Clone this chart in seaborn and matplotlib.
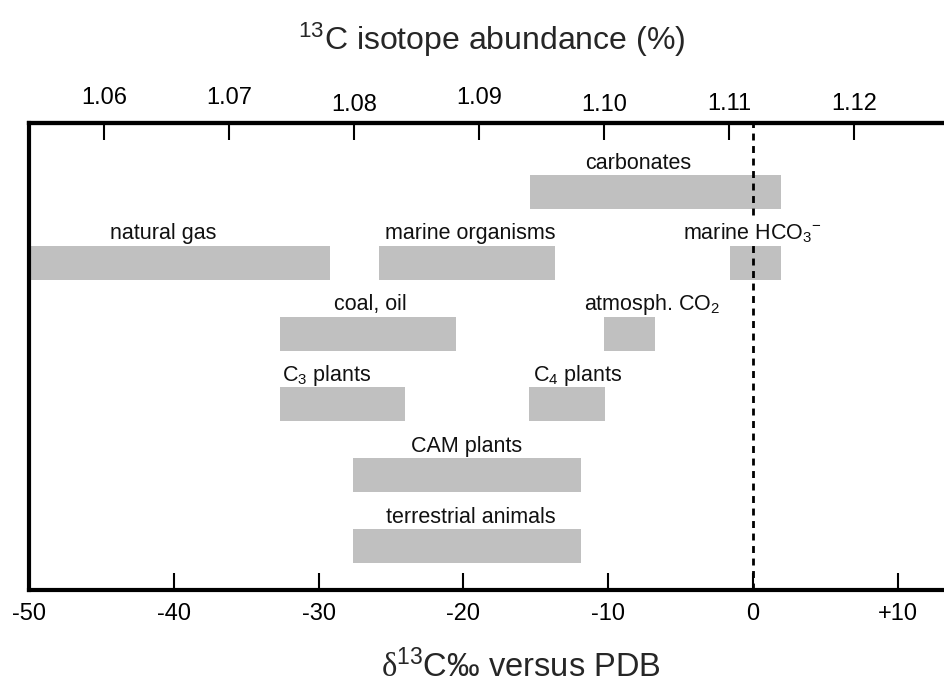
import matplotlib
matplotlib.use("Agg")
import matplotlib.pyplot as plt
from matplotlib.transforms import ScaledTranslation
import seaborn as sns
import numpy as np

# delta13C ranges (per mil vs PDB)
sources = ["carbonates", "natural gas", "marine organisms", "marine HCO$_3$$^{-}$",
           "coal, oil", "atmosph. CO$_2$", "C$_3$ plants", "C$_4$ plants",
           "CAM plants", "terrestrial animals"]
delta_low = [-15.4, -50.0, -25.8, -1.6, -32.7, -10.3, -32.7, -15.5, -27.6, -27.6]
delta_high = [1.9, -29.2, -13.7, 1.9, -20.5, -6.8, -24.0, -10.2, -11.9, -11.9]
row = [0, 1, 1, 1, 2, 2, 3, 3, 4, 5]

bottom_ticks = [-50, -40, -30, -20, -10, 0, 10]
bottom_labels = ["-50", "-40", "-30", "-20", "-10", "0", "+10"]
top_ticks = [1.06, 1.07, 1.08, 1.09, 1.10, 1.11, 1.12]
top_labels = ["1.06", "1.07", "1.08", "1.09", "1.10", "1.11", "1.12"]

# label placement (layout only): x in data units, alignment
label_x = [-7.9, -40.7, -19.5, -4.8, -26.4, -11.7, -32.5, -15.2, -19.8, -19.5]
label_ha = ["center", "center", "center", "left", "center", "left",
            "left", "left", "center", "center"]
# the one label sitting over the dashed zero line gets a white backing
label_backed = [False, False, False, True, False, False, False, False, False, False]
# small vertical jitter of the top tick labels, in points
top_label_drop = [0, 0, 5, 0, 5, 4, 4]

sns.set_style("white")
plt.rcParams["font.family"] = ["Liberation Sans", "DejaVu Sans"]
plt.rcParams["mathtext.fontset"] = "custom"
plt.rcParams["mathtext.rm"] = "Liberation Sans"
plt.rcParams["mathtext.it"] = "Liberation Sans:italic"
plt.rcParams["mathtext.sf"] = "Liberation Serif"

fig = plt.figure(figsize=(9.45, 6.87), dpi=100)
ax = fig.add_axes([29 / 945, 1 - 590 / 687, 1 - 29 / 945, (590 - 123) / 687])

bar_color = "#c0c0c0"
ax.barh(row, np.array(delta_high) - np.array(delta_low), left=delta_low,
        height=0.48, color=bar_color, edgecolor="none", zorder=1)

ax.axvline(0, color="black", lw=2, ls=(0, (2.5, 2)), zorder=3)

for name, x, ha, r, backed in zip(sources, label_x, label_ha, row, label_backed):
    bbox = dict(facecolor="white", edgecolor="none", pad=1) if backed else None
    ax.text(x, r - 0.33, name, ha=ha, va="baseline", fontsize=15.5, color="#111111",
            zorder=4, bbox=bbox)

ax.set_xlim(-50, 13.26)
ax.set_ylim(5.62, -0.975)
ax.set_yticks([])
ax.set_xticks(bottom_ticks)
ax.set_xticklabels(bottom_labels)
ax.tick_params(axis="x", direction="in", length=12, width=1.5, pad=9,
               labelsize=17, bottom=True, colors="black")

for side in ["left", "top", "bottom"]:
    ax.spines[side].set_linewidth(3)
    ax.spines[side].set_color("black")
ax.spines["right"].set_visible(False)


def to_abund(d):
    return 1.11191 + np.asarray(d) / 863.0


def to_delta(a):
    return (np.asarray(a) - 1.11191) * 863.0


sec = ax.secondary_xaxis("top", functions=(to_abund, to_delta))
sec.set_xticks(top_ticks)
sec.set_xticklabels(top_labels)
sec.tick_params(axis="x", direction="in", length=12, width=1.5, pad=10,
                labelsize=17, colors="black")
sec.spines["top"].set_linewidth(3)
for lab, drop in zip(sec.get_xticklabels(), top_label_drop):
    lab.set_transform(lab.get_transform()
                      + ScaledTranslation(0, -drop / 72, fig.dpi_scale_trans))

fig.text(0.52, 0.942, "$^{13}$C isotope abundance (%)", ha="center", va="center",
         fontsize=23)
fig.text(0.551, 0.029, r"$\mathsf{\delta}^{13}$C‰ versus PDB", ha="center",
         va="center", fontsize=23.5)

fig.savefig("out.png", dpi=100)
